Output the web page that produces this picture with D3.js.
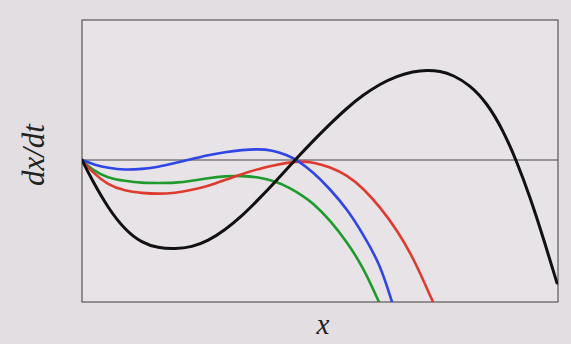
<!DOCTYPE html>
<html>
<head>
<meta charset="utf-8">
<script src="https://cdn.jsdelivr.net/npm/d3@7"></script>
<style>
  html, body { margin: 0; padding: 0; background: #e3dee1; }
  svg { display: block; }
</style>
</head>
<body>
<div id="chart"></div>
<script>
// values (x, dx/dt), arbitrary units
const blackX = [0, 0.10, 0.26, 0.43, 0.60, 0.76, 0.93, 1.10, 1.26, 1.43, 1.60, 1.76, 1.93, 2.14, 2.31, 2.48, 2.65, 2.81, 2.98, 3.15, 3.31, 3.45, 3.58, 3.71, 3.88, 4.05, 4.21, 4.35, 4.48, 4.61, 4.75];
const blackY = [0, -0.20, -0.48, -0.70, -0.83, -0.88, -0.89, -0.87, -0.81, -0.70, -0.56, -0.40, -0.22, 0.01, 0.19, 0.36, 0.52, 0.65, 0.76, 0.84, 0.885, 0.90, 0.89, 0.85, 0.75, 0.57, 0.30, -0.02, -0.37, -0.77, -1.23];

const blueX = [0, 0.13, 0.26, 0.43, 0.60, 0.76, 0.93, 1.10, 1.26, 1.43, 1.60, 1.76, 1.90, 2.05, 2.15, 2.31, 2.48, 2.65, 2.81, 2.98, 3.10];
const blueY = [0, -0.05, -0.08, -0.10, -0.09, -0.07, -0.03, 0.01, 0.05, 0.08, 0.10, 0.11, 0.10, 0.05, 0, -0.12, -0.29, -0.49, -0.74, -1.04, -1.42];

const redX = [0, 0.10, 0.26, 0.43, 0.60, 0.76, 0.93, 1.10, 1.26, 1.43, 1.60, 1.76, 1.93, 2.15, 2.31, 2.48, 2.65, 2.81, 2.98, 3.15, 3.31, 3.51];
const redY = [0, -0.12, -0.25, -0.31, -0.33, -0.34, -0.33, -0.30, -0.26, -0.20, -0.14, -0.09, -0.05, -0.01, -0.02, -0.07, -0.15, -0.28, -0.47, -0.70, -0.97, -1.42];

const greenX = [0, 0.10, 0.26, 0.43, 0.60, 0.76, 0.93, 1.10, 1.26, 1.43, 1.60, 1.76, 1.93, 2.08, 2.21, 2.31, 2.48, 2.65, 2.81, 2.97];
const greenY = [0, -0.10, -0.18, -0.21, -0.23, -0.23, -0.23, -0.21, -0.18, -0.16, -0.16, -0.17, -0.21, -0.28, -0.36, -0.43, -0.60, -0.82, -1.07, -1.42];

const series = [
  { name: 'green', xs: greenX, ys: greenY, color: '#1f9a2c', w: 2.6 },
  { name: 'red', xs: redX, ys: redY, color: '#de3b30', w: 2.6 },
  { name: 'blue', xs: blueX, ys: blueY, color: '#2f45e6', w: 2.6 },
  { name: 'black', xs: blackX, ys: blackY, color: '#111111', w: 3 }
];

const width = 571;
const height = 344;
const plotLeft = 82, plotRight = 558, plotTop = 20, plotBottom = 302;

const svg = d3.select('#chart')
  .append('svg')
  .attr('width', width)
  .attr('height', height)
  .attr('viewBox', `0 0 ${width} ${height}`);

svg.append('rect')
  .attr('width', width)
  .attr('height', height)
  .attr('fill', '#e3dee1');

const x = d3.scaleLinear().domain([0, 4.76]).range([plotLeft, plotRight]);
const y = d3.scaleLinear().domain([-1.42, 1.40]).range([plotBottom, plotTop]);

svg.append('defs').append('clipPath')
  .attr('id', 'plot-clip')
  .append('rect')
  .attr('x', plotLeft)
  .attr('y', plotTop)
  .attr('width', plotRight - plotLeft)
  .attr('height', plotBottom - plotTop);

// plot area
svg.append('rect')
  .attr('x', plotLeft)
  .attr('y', plotTop)
  .attr('width', plotRight - plotLeft)
  .attr('height', plotBottom - plotTop)
  .attr('fill', '#e8e3e6')
  .attr('stroke', '#5a5658')
  .attr('stroke-width', 1.2);

// zero line
svg.append('line')
  .attr('x1', x(0))
  .attr('x2', plotRight)
  .attr('y1', y(0))
  .attr('y2', y(0))
  .attr('stroke', '#4a4648')
  .attr('stroke-width', 1.2);

// basis smooths out the small reading errors in the points
const line = d3.line()
  .x(d => x(d[0]))
  .y(d => y(d[1]))
  .curve(d3.curveBasis);

svg.append('g')
  .attr('clip-path', 'url(#plot-clip)')
  .selectAll('path')
  .data(series)
  .enter().append('path')
  .attr('d', s => line(s.xs.map((v, i) => [v, s.ys[i]])))
  .attr('fill', 'none')
  .attr('stroke', s => s.color)
  .attr('stroke-width', s => s.w)
  .attr('stroke-linecap', 'round');

// axis labels
svg.append('text')
  .attr('transform', 'translate(44,155) rotate(-90)')
  .attr('text-anchor', 'middle')
  .attr('font-family', '"Liberation Serif", "DejaVu Serif", serif')
  .attr('font-style', 'italic')
  .attr('font-size', 31)
  .attr('fill', '#222')
  .text('dx/dt');

svg.append('text')
  .attr('x', 323)
  .attr('y', 334)
  .attr('text-anchor', 'middle')
  .attr('font-family', '"Liberation Serif", "DejaVu Serif", serif')
  .attr('font-style', 'italic')
  .attr('font-size', 29)
  .attr('fill', '#222')
  .text('x');
</script>
</body>
</html>
